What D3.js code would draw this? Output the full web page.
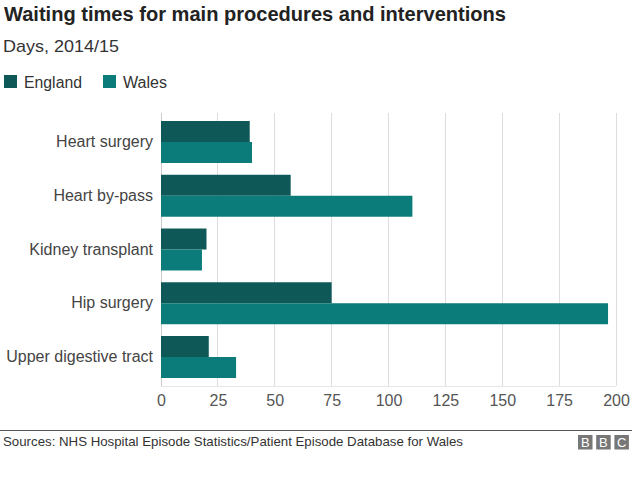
<!DOCTYPE html>
<html><head><meta charset="utf-8">
<script src="https://cdn.jsdelivr.net/npm/d3@7"></script>
<style>
html,body{margin:0;padding:0;background:#fff;}
text{font-family:"Liberation Sans",Arial,sans-serif;}
</style></head>
<body>
<svg id="c" width="640" height="477"></svg>
<script>
const categories = ["Heart surgery","Heart by-pass","Kidney transplant","Hip surgery","Upper digestive tract"];
const seriesNames = ["England","Wales"];
const england = [39, 57, 20, 75, 21];
const wales = [40, 110.5, 18, 196.5, 33];
const xTicks = [0,25,50,75,100,125,150,175,200];
const colors = {England:"#0e5858", Wales:"#0b7c79"};

const svg = d3.select("#c");
const m = {left:161, right:616, top:113, bottom:386};

const x = d3.scaleLinear().domain([0,200]).range([m.left, m.right]);
const y = d3.scaleBand().domain(categories).range([m.top, m.bottom]).paddingInner(0.219).paddingOuter(0.149);
const ySub = d3.scaleBand().domain(seriesNames).range([0, y.bandwidth()]);

// title
svg.append("text").attr("x",4).attr("y",21).attr("font-size",20).attr("font-weight","bold").attr("fill","#222")
  .attr("textLength",502).attr("lengthAdjust","spacingAndGlyphs")
  .text("Waiting times for main procedures and interventions");
svg.append("text").attr("x",3).attr("y",51.7).attr("font-size",17).attr("fill","#333")
  .attr("textLength",116).attr("lengthAdjust","spacingAndGlyphs").text("Days, 2014/15");

// legend
const leg = [{n:"England",x:4,tx:24,w:58},{n:"Wales",x:103,tx:123,w:44}];
leg.forEach(l=>{
  svg.append("rect").attr("x",l.x).attr("y",75).attr("width",13).attr("height",13).attr("fill",colors[l.n]);
  svg.append("text").attr("x",l.tx).attr("y",87.5).attr("font-size",16).attr("fill","#333")
    .attr("textLength",l.w).attr("lengthAdjust","spacingAndGlyphs").text(l.n);
});

// grid
svg.append("g").selectAll("line").data(xTicks).join("line")
  .attr("x1",d=>x(d)).attr("x2",d=>x(d)).attr("y1",m.top).attr("y2",m.bottom)
  .attr("stroke",d=>d===0?"#ccc":"#dedede").attr("stroke-width",1).attr("shape-rendering","crispEdges");
svg.append("line").attr("x1",m.left).attr("x2",m.right).attr("y1",m.bottom).attr("y2",m.bottom)
  .attr("stroke","#e6e6e6").attr("shape-rendering","crispEdges");

// x axis
const xa = svg.append("g").attr("transform",`translate(0,${m.bottom})`)
  .call(d3.axisBottom(x).tickValues(xTicks).tickSize(0).tickPadding(9));
xa.select(".domain").remove();
xa.selectAll("text").attr("font-size",16).attr("fill","#555").attr("font-family","Liberation Sans, Arial, sans-serif");

// y axis
const ya = svg.append("g").attr("transform",`translate(${m.left-8},0)`)
  .call(d3.axisLeft(y).tickSize(0).tickPadding(0));
ya.select(".domain").remove();
ya.selectAll("text").attr("font-size",16).attr("fill","#444").attr("font-family","Liberation Sans, Arial, sans-serif");

// bars
const data = categories.map((c,i)=>({c, vals:[{s:"England",v:england[i]},{s:"Wales",v:wales[i]}]}));
const g = svg.append("g").selectAll("g").data(data).join("g").attr("transform",d=>`translate(0,${y(d.c)})`);
g.selectAll("rect").data(d=>d.vals).join("rect")
  .attr("x",x(0)).attr("y",d=>ySub(d.s)).attr("width",d=>x(d.v)-x(0)).attr("height",ySub.bandwidth())
  .attr("fill",d=>colors[d.s]);

// footer
svg.append("line").attr("x1",0).attr("x2",632).attr("y1",430.5).attr("y2",430.5).attr("stroke","#555").attr("stroke-width",1.2);
svg.append("text").attr("x",3).attr("y",446).attr("font-size",13).attr("fill","#333")
  .attr("textLength",460).attr("lengthAdjust","spacingAndGlyphs")
  .text("Sources: NHS Hospital Episode Statistics/Patient Episode Database for Wales");
["B","B","C"].forEach((t,i)=>{
  const bx = 578 + i*18.2;
  svg.append("rect").attr("x",bx).attr("y",435).attr("width",14.5).attr("height",14.5).attr("fill","#777");
  svg.append("text").attr("x",bx+7.25).attr("y",447).attr("text-anchor","middle").attr("font-size",13).attr("fill","#fff").text(t);
});
</script>
</body></html>
